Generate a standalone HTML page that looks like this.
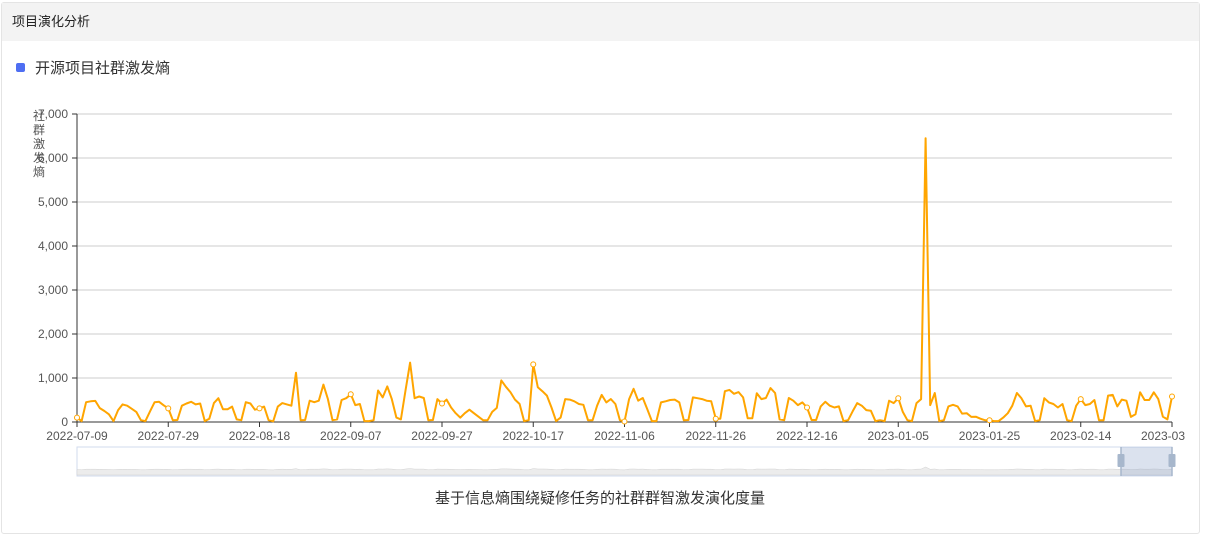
<!DOCTYPE html>
<html><head><meta charset="utf-8">
<style>
body{margin:0;width:1205px;height:520px;overflow:hidden;background:#fff;font-family:"Liberation Sans","Noto Sans CJK SC",sans-serif;}
#card{position:absolute;left:1px;top:2px;width:1197px;height:530px;border:1px solid #e4e4e4;border-radius:3px;}
#hdr{position:absolute;left:0;top:0;width:1197px;height:38px;background:#f3f3f3;font-size:13px;color:#222;line-height:38px;padding-left:10px;box-sizing:border-box;}
</style></head><body>
<div id="card">
<div id="hdr">项目演化分析</div>
</div>
<svg id="chart" width="1205" height="520" style="position:absolute;left:0;top:0"></svg>
<script>
const yTicks=[0,1000,2000,3000,4000,5000,6000,7000];
const yTickLabels=["0","1,000","2,000","3,000","4,000","5,000","6,000","7,000"];
const xTickLabels=["2022-07-09","2022-07-29","2022-08-18","2022-09-07","2022-09-27","2022-10-17","2022-11-06","2022-11-26","2022-12-16","2023-01-05","2023-01-25","2023-02-14","2023-03"];
const xTickIdx=[0,20,40,60,80,100,120,140,160,180,200,220,240];
const values=[100,20,450,470,480,315,250,175,20,270,400,370,300,230,40,20,240,450,460,380,310,40,45,370,420,460,400,420,20,75,
430,540,290,290,350,60,40,450,420,280,310,350,40,15,350,430,400,370,1120,40,45,485,450,485,850,520,40,60,500,540,
630,385,410,20,20,40,715,560,810,520,100,60,715,1350,540,580,545,40,45,520,420,510,330,200,100,200,280,200,120,40,
40,230,320,945,800,680,510,410,20,40,1310,790,700,600,330,20,100,520,510,470,410,390,40,40,370,615,445,520,410,40,
10,520,755,485,545,290,20,20,445,470,500,510,445,40,45,560,540,520,485,470,75,75,700,730,640,680,560,85,85,655,
520,545,770,660,60,40,545,485,385,445,330,45,45,355,460,370,330,355,20,40,240,430,370,270,255,20,40,20,485,430,
540,230,40,20,430,520,6450,385,660,20,40,355,390,355,190,200,115,120,75,40,40,20,20,100,200,370,660,540,355,370,
20,40,540,445,410,330,410,40,20,370,520,385,410,500,40,40,600,615,355,510,485,115,175,675,500,500,675,520,120,60,580];
const markerEvery=20;
const NS="http://www.w3.org/2000/svg";
const svg=document.getElementById('chart');
const X0=77,X1=1172,Y0=422,Y7=114;
const xs=i=>X0+(X1-X0)*i/(values.length-1);
const ys=v=>Y0-(Y0-Y7)*v/7000;
function mk(t,a,txt){const e=document.createElementNS(NS,t);for(const k in a)e.setAttribute(k,a[k]);if(txt!==undefined)e.textContent=txt;svg.appendChild(e);return e;}
let e=mk('rect',{x:16,y:63,width:9,height:9,rx:2,fill:'#4e6ef2'});

e=mk('text',{x:35,y:73,'font-size':15,fill:'#333'},'开源项目社群激发熵');

yTicks.forEach((v,i)=>{
 const y=ys(v);
 if(v>0){e=mk('line',{x1:X0,x2:X1,y1:y,y2:y,stroke:'#ccc','stroke-width':1});
 }
 e=mk('line',{x1:X0-5,x2:X0,y1:y,y2:y,stroke:'#333'});
 
 e=mk('text',{x:X0-9,y:y+4,'font-size':12,fill:'#555','text-anchor':'end'},yTickLabels[i]);
 
});
const tt="社群激发熵";
for(let i=0;i<tt.length;i++){e=mk('text',{x:39,y:120+i*14,'font-size':12,fill:'#555','text-anchor':'middle'},tt[i]);
}
e=mk('line',{x1:X0,x2:X0,y1:Y7,y2:Y0,stroke:'#333'});
e=mk('line',{x1:X0,x2:X1,y1:Y0,y2:Y0,stroke:'#333'});
xTickIdx.forEach((d,i)=>{
 const x=xs(d);
 e=mk('line',{x1:x,x2:x,y1:Y0,y2:Y0+5,stroke:'#333'});
 e=mk('text',{x:i==xTickIdx.length-1?x-9:x,y:440,'font-size':12,fill:'#555','text-anchor':'middle'},xTickLabels[i]);
 
});
e=mk('line',{x1:X1,x2:X1,y1:Y0,y2:Y0+5,stroke:'#333'});
const pts=values.map((v,i)=>xs(i).toFixed(1)+','+ys(v).toFixed(1)).join(' ');
e=mk('polyline',{points:pts,fill:'none',stroke:'#ffa500','stroke-width':2,'stroke-linejoin':'round'});

values.forEach((v,i)=>{if(i%markerEvery===0){
 e=mk('circle',{cx:xs(i),cy:ys(v),r:2.5,fill:'#fff',stroke:'#ffa500','stroke-width':1});
 }});
e=mk('rect',{x:X0,y:447,width:X1-X0,height:29,fill:'none',stroke:'#d2dbee'});

const dzMax=Math.max(...values);
const dzPts=[X0+','+475].concat(values.map((v,i)=>xs(i).toFixed(1)+','+(470-3*Math.sqrt(v/dzMax)).toFixed(1))).concat([X1+','+475]).join(' ');
e=mk('polygon',{points:dzPts,fill:'#ececec',stroke:'#d0d0d0','stroke-width':0.5});

e=mk('rect',{x:1121,y:447,width:51,height:29,fill:'rgba(135,160,200,0.3)'});

[1121,1172].forEach(x=>{
 e=mk('line',{x1:x,x2:x,y1:447,y2:476,stroke:'#a7b7cc','stroke-width':1.5});
 
 e=mk('rect',{x:x-3.5,y:454,width:7,height:13,rx:1,fill:'#a7b7cc'});
 
});
e=mk('text',{x:600,y:503,'font-size':15,fill:'#333','text-anchor':'middle'},'基于信息熵围绕疑修任务的社群群智激发演化度量');

</script>
</body></html>
